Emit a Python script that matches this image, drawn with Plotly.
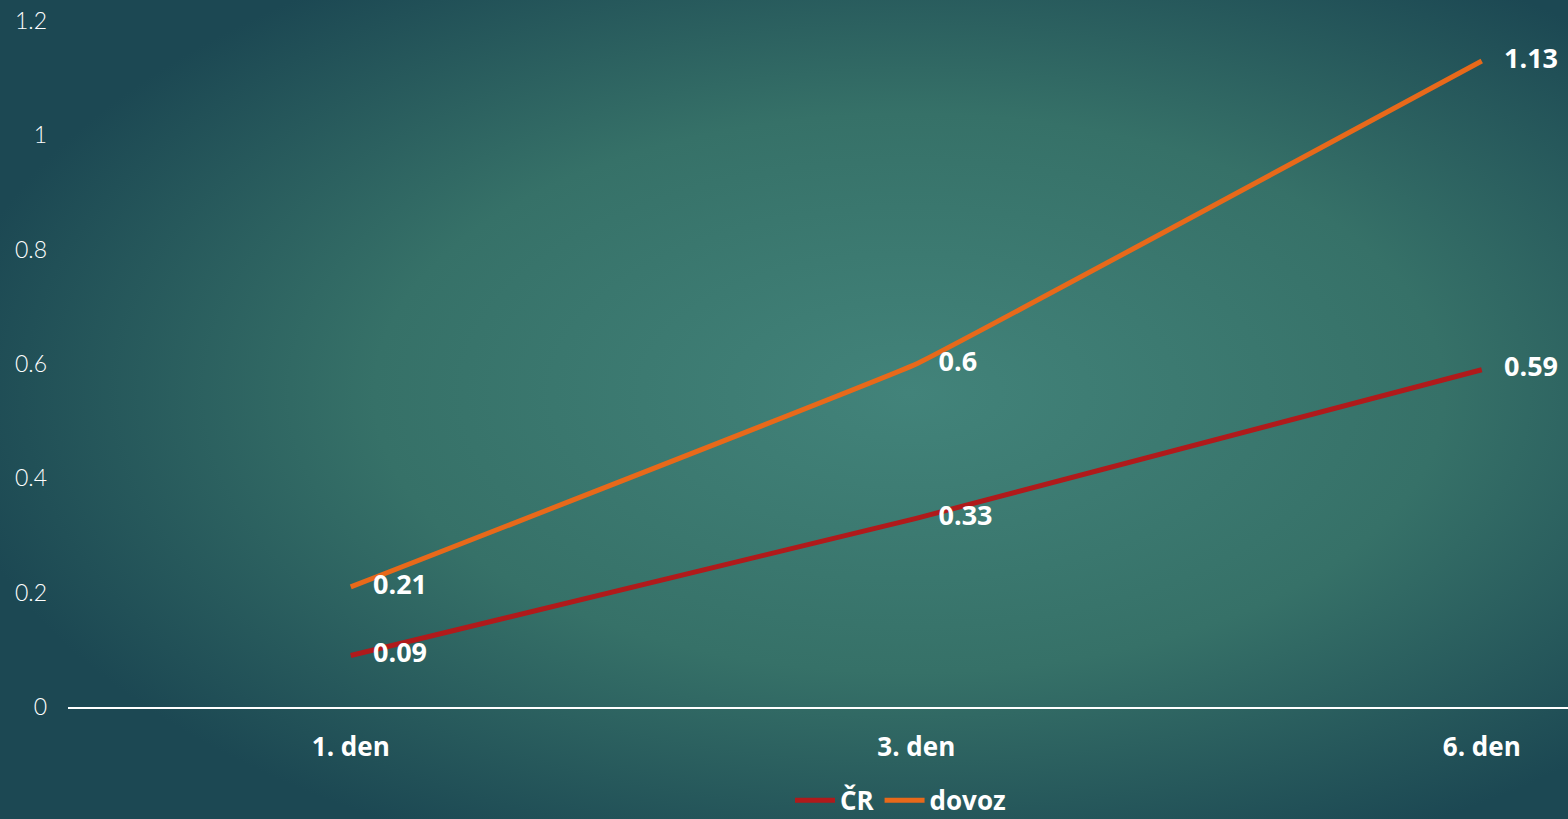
import plotly.graph_objects as go
import urllib.parse

categories = ["1. den", "3. den", "6. den"]
cr_values = [0.09, 0.33, 0.59]
dovoz_values = [0.21, 0.6, 1.13]
y_ticks = [0, 0.2, 0.4, 0.6, 0.8, 1, 1.2]
y_tick_labels = ["0", "0.2", "0.4", "0.6", "0.8", "1", "1.2"]

W, H = 1568, 819
ml, mr, mt, mb = 68, 0, 21, 112
pw, ph = W - ml - mr, H - mt - mb

svg = f"""<svg xmlns='http://www.w3.org/2000/svg' width='{W}' height='{H}' viewBox='0 0 {W} {H}' preserveAspectRatio='none'>
<defs><radialGradient id='g' cx='0.58' cy='0.48' r='0.62' fx='0.58' fy='0.48'>
<stop offset='0' stop-color='#42837A'/>
<stop offset='0.55' stop-color='#367168'/>
<stop offset='1' stop-color='#1C4853'/>
</radialGradient></defs>
<rect width='100%' height='100%' fill='url(#g)'/></svg>"""
bg_uri = "data:image/svg+xml;charset=utf-8," + urllib.parse.quote(svg)

x_idx = list(range(len(categories)))
label_font = dict(family="Open Sans", size=27, color="white", weight="bold")

fig = go.Figure()
for name, vals, col in [("ČR", cr_values, "#B01A1B"), ("dovoz", dovoz_values, "#E8691A")]:
    fig.add_trace(go.Scatter(
        x=x_idx, y=vals, name=name, mode="lines+markers+text",
        line=dict(color=col, width=5, shape="spline", smoothing=0.15),
        marker=dict(size=34, color="rgba(0,0,0,0)", line=dict(width=0)),
        text=[str(v) for v in vals], textposition="middle right",
        textfont=label_font,
        cliponaxis=False,
    ))

x_end = -0.5 + pw / 565.5

fig.update_layout(
    width=W, height=H,
    margin=dict(l=ml, r=mr, t=mt, b=mb, autoexpand=False),
    paper_bgcolor="#2B6262",
    plot_bgcolor="rgba(0,0,0,0)",
    font=dict(family="Open Sans", color="white"),
    showlegend=True,
    legend=dict(orientation="h", x=0.555, xanchor="center", y=-0.136, yanchor="middle",
                font=dict(family="Open Sans", size=26, color="white", weight="bold"),
                bgcolor="rgba(0,0,0,0)", itemwidth=40, tracegroupgap=0),
    xaxis=dict(range=[-0.5, x_end], tickvals=x_idx, ticktext=categories,
               showgrid=False, zeroline=False, showline=True, linecolor="white", linewidth=2,
               ticks="", tickfont=dict(family="Open Sans", size=26, color="white", weight="bold"),
               ticklabelstandoff=16),
    yaxis=dict(range=[0, 1.2], tickvals=y_ticks, ticktext=y_tick_labels,
               showgrid=False, zeroline=False, showline=False, ticks="",
               tickfont=dict(family="Lato", size=23, color="white", weight=300),
               ticklabelstandoff=20),
    images=[dict(source=bg_uri, xref="paper", yref="paper",
                 x=-ml / pw, y=1 + mt / ph, sizex=W / pw, sizey=H / ph,
                 xanchor="left", yanchor="top", sizing="stretch", layer="below")],
)

fig.write_html("out.html")
